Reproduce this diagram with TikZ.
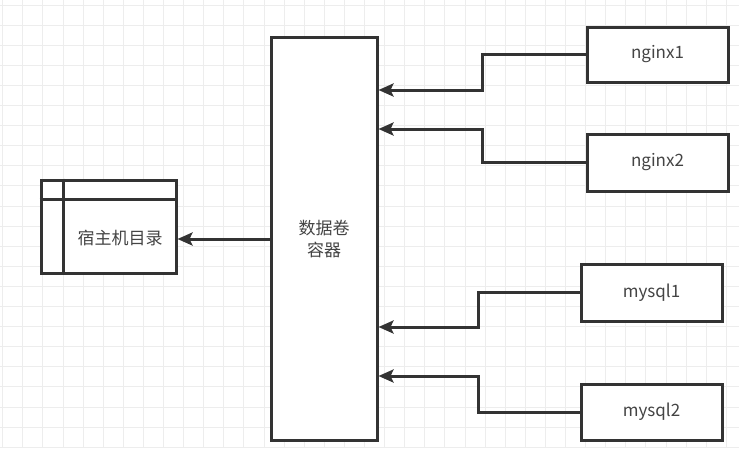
\documentclass[tikz,border=0pt]{standalone}
\usepackage{fontspec}
\setmainfont{Noto Sans CJK SC}
\usetikzlibrary{arrows.meta}
\definecolor{ln}{HTML}{333333}
\definecolor{tx}{HTML}{444444}
\definecolor{gridc}{HTML}{EDEDED}
\tikzset{
  box/.style={draw=ln, line width=3pt, fill=white, inner sep=0pt, text=tx, font=\fontsize{17}{22}\selectfont, align=center},
  conn/.style={draw=ln, line width=3pt, -{Stealth[length=15pt,width=13pt,inset=3pt]}},
}
\begin{document}
\begin{tikzpicture}[x=1pt,y=-1pt]
\useasboundingbox (0,0) rectangle (739,448);
\fill[white] (0,0) rectangle (739,448);
\foreach \i in {0,...,36} \draw[gridc, line width=1pt] (2.7+20.1*\i,0) -- (2.7+20.1*\i,448);
\foreach \j in {0,...,22} \draw[gridc, line width=1pt] (0,5+20.1*\j) -- (739,5+20.1*\j);

% host directory
\node[box, minimum width=135pt, minimum height=93pt] (host) at (108.5,226.5) {};
\draw[ln, line width=3pt] (host.north west |- 0,199) -- (host.north east |- 0,199);
\draw[ln, line width=3pt] (63,0 |- host.north) -- (63,0 |- host.south);
\node[text=tx, font=\fontsize{17}{22}\selectfont, inner sep=0pt] (hostlabel) at (120,238) {宿主机目录};

% container
\node[box, minimum width=106pt, minimum height=403pt] (cont) at (324,238.5) {};
\node[text=tx, font=\fontsize{17}{22}\selectfont, align=center, inner sep=0pt] (contlabel) at (324,239) {数据卷\\容器};

% right boxes
\node[box, minimum width=141pt, minimum height=55pt] (nginx1) at (657.5,54.5) {nginx1};
\node[box, minimum width=141pt, minimum height=57pt] (nginx2) at (657.5,162.5) {nginx2};
\node[box, minimum width=141pt, minimum height=57pt] (mysql1) at (651.5,292.5) {mysql1};
\node[box, minimum width=141pt, minimum height=56pt] (mysql2) at (651.5,412) {mysql2};

% connectors
\draw[conn] (cont.west |- 0,239) -- (host.east |- 0,239);
\draw[conn] (nginx1.west) -| (482,90) -- (cont.east |- 0,90);
\draw[conn] (nginx2.west) -| (482,129) -- (cont.east |- 0,129);
\draw[conn] (mysql1.west) -| (478,327) -- (cont.east |- 0,327);
\draw[conn] (mysql2.west) -| (478,376) -- (cont.east |- 0,376);
\end{tikzpicture}
\end{document}
